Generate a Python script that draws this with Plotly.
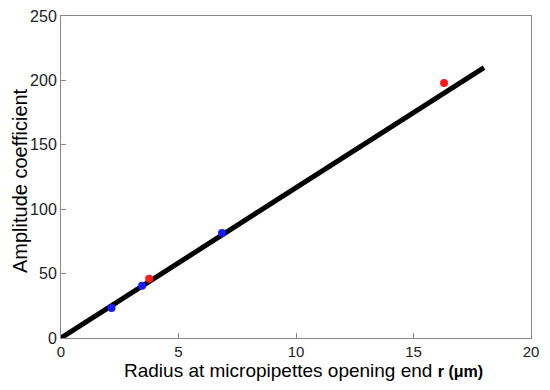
import plotly.graph_objects as go

# measured points
blue_r = [2.15, 3.45, 6.85]
blue_amp = [23.3, 40.5, 81.5]
red_r = [3.75, 16.3]
red_amp = [46, 198]

# linear fit
fit_r = [0, 18]
fit_amp = [0, 210]

fig = go.Figure()
fig.add_trace(go.Scatter(x=fit_r, y=fit_amp, mode="lines",
                         line=dict(color="black", width=5)))
fig.add_trace(go.Scatter(x=blue_r, y=blue_amp, mode="markers",
                         marker=dict(color="#1a1aff", size=8)))
fig.add_trace(go.Scatter(x=red_r, y=red_amp, mode="markers",
                         marker=dict(color="#ff1a1a", size=8)))

fnt = "Liberation Sans, Arial"
axis_style = dict(showline=True, linecolor="#888888", linewidth=1, mirror=True,
                  ticks="inside", ticklen=5, tickcolor="#888888",
                  showgrid=False, zeroline=False, automargin=False,
                  ticklabeloverflow="allow")

fig.update_xaxes(range=[0, 20], tickvals=[0, 5, 10, 15, 20],
                 tickfont=dict(family=fnt, size=15, color="#222"), **axis_style)
fig.update_yaxes(range=[0, 250], tickvals=[0, 50, 100, 150, 200, 250],
                 tickfont=dict(family=fnt, size=16, color="#222"), **axis_style)

# axis titles as annotations for exact placement
fig.add_annotation(text="Radius at micropipettes opening end <b><span style='font-size:16px'>r (μm)</span></b>",
                   xref="paper", yref="paper", x=0.5, y=0, xshift=7, yshift=-32,
                   xanchor="center", yanchor="middle", showarrow=False,
                   font=dict(family=fnt, size=19, color="black"))
fig.add_annotation(text="Amplitude coefficient", textangle=-90,
                   xref="paper", yref="paper", x=0, y=0.5, xshift=-41, yshift=-4,
                   xanchor="center", yanchor="middle", showarrow=False,
                   font=dict(family=fnt, size=20, color="black"))

# page body adds an 8px offset, margins compensate
fig.update_layout(width=550, height=390, showlegend=False,
                  plot_bgcolor="white", paper_bgcolor="white",
                  margin=dict(l=53, r=27, t=8, b=60))

fig.write_html("out.html")
